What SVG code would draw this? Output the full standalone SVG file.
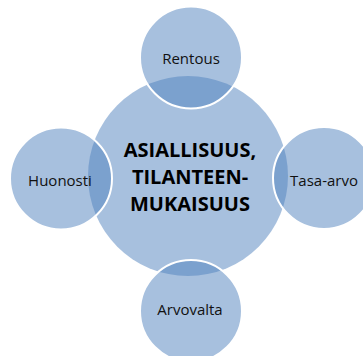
<svg xmlns="http://www.w3.org/2000/svg" width="363" height="356" viewBox="0 0 363 356">
  <style>
    .disc { fill: #4F81BD; fill-opacity: 0.5; }
    .sat { stroke: #FFFFFF; stroke-width: 2; }
    .lbl { font-family: "Open Sans", "Liberation Sans", sans-serif; font-size: 15px; fill: #111111; text-anchor: middle; dominant-baseline: central; }
    .hub { font-family: "Open Sans", "Liberation Sans", sans-serif; font-size: 20px; font-weight: bold; fill: #000000; text-anchor: middle; }
  </style>
  <rect width="363" height="356" fill="#FFFFFF"/>
  <g id="center">
    <circle class="disc" cx="188" cy="176" r="100"/>
  </g>
  <g id="connectors"></g>
  <g id="rentous">
    <circle class="disc sat" cx="191" cy="57.5" r="51"/>
    <text class="lbl" x="191" y="58">Rentous</text>
  </g>
  <g id="huonosti">
    <circle class="disc sat" cx="61" cy="178.5" r="51"/>
    <text class="lbl" x="60" y="180">Huonosti</text>
  </g>
  <g id="tasa-arvo">
    <circle class="disc sat" cx="324" cy="178" r="51"/>
    <text class="lbl" x="324" y="180">Tasa-arvo</text>
  </g>
  <g id="arvovalta">
    <circle class="disc sat" cx="191" cy="311" r="51"/>
    <text class="lbl" x="190" y="309">Arvovalta</text>
  </g>
  <g id="center-label">
    <text class="hub" x="190" y="157">ASIALLISUUS,</text>
    <text class="hub" x="190" y="184">TILANTEEN-</text>
    <text class="hub" x="190" y="211">MUKAISUUS</text>
  </g>
</svg>
